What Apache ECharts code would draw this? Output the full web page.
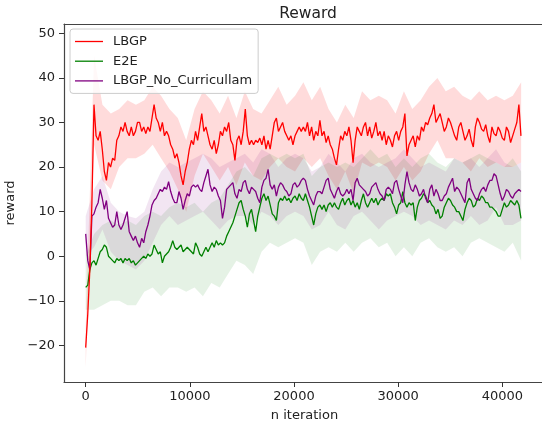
<!DOCTYPE html>
<html>
<head>
<meta charset="utf-8">
<title>Reward</title>
<script src="https://cdn.jsdelivr.net/npm/echarts@6/dist/echarts.min.js"></script>
<style>
  html, body { margin: 0; padding: 0; background: #fff; }
  #main { width: 542px; height: 426px; }
</style>
</head>
<body>
<div id="main"></div>
<script>
// iterations between samples of the mean curves / of the std bands
const meanStep = 199;
const bandStep = 804;

const seriesNames = ['LBGP', 'E2E', 'LBGP_No_Curricullam'];

const lbgpMean = [
  -20.5, -13, -3, 12, 34, 27, 26, 28, 24, 19,
  17, 21, 20, 22, 21.5, 26, 27, 29, 28, 30,
  28, 27, 29, 27, 28, 30, 30, 28, 29, 27.5,
  29, 28, 31, 34, 31, 30, 28, 30, 27, 28,
  27, 25, 24, 22, 23, 21, 18, 16, 19, 21,
  24, 26, 25, 28, 26, 29, 32, 28, 29, 27,
  25, 24, 26, 23, 25, 28, 27, 29, 28, 30,
  26, 25, 21.5, 26, 27, 25, 28, 33, 27, 25,
  26, 25, 26, 25.5, 26.5, 25, 27, 24, 26, 24,
  27, 30, 31, 28, 29, 30, 28, 27, 26, 27,
  25, 27, 28, 29, 28, 29, 28, 30, 27, 29,
  26, 28, 27, 30.5, 27, 28, 25.5, 27, 25, 24,
  22, 20.5, 24, 27, 26, 28, 27, 29, 26, 21,
  26, 29, 28, 27, 29, 30, 27, 29, 26.5, 28,
  30, 27, 28, 26, 28, 25, 27, 26, 24.5, 27,
  28, 26, 28, 29, 32, 22.5, 25, 26, 27, 24.5,
  27, 26, 29, 28, 30, 29.5, 31, 32, 34, 30,
  31, 32, 30, 28, 29, 31, 30, 28.5, 27, 26,
  29, 30, 28, 26, 27, 28.5, 26, 24.5, 29, 31,
  30, 28.5, 28, 29.5, 27, 25.5, 29, 27.5, 27, 29,
  28, 26.5, 26, 29, 28, 25.5, 27, 28.5, 30, 34, 27
];

const e2eMean = [
  -7, -6.5, -3, -1.5, -1, -2, -0.5, 1, 1.5, 2.5,
  2, 0, -0.5, -1, -1.5, -0.5, -1, -0.5, -1.5, -0.5,
  -1, -0.5, -1.5, -1, -2, -1.5, -1, -0.5, 0, -0.5,
  0.5, 0, 0.5, 2.5, 1.5, 0.5, 1, -1.5, 0, 0.5,
  1, 2, 3.5, 2, 1.5, 2, 2.5, 1, 1.5, 2,
  1.5, 1, 0.5, 3, 2, 0.5, 0, 1, 2, 1,
  2, 3, 2, 3.5, 2.5, 3, 2.5, 3, 4.5, 5.5,
  6.5, 7.5, 9, 10.5, 12, 12.5, 10.5, 9, 6.5, 9.5,
  10.5, 8, 5.5, 9, 11, 13, 14, 12.5, 13.5, 11.5,
  9.5, 9, 8, 12, 13, 12.5, 13.5, 12.5, 13, 12,
  13, 13.5, 12.5, 14, 13, 12.5, 14, 12.5, 11, 9,
  7, 9.5, 11, 11.5, 10.5, 11.5, 10, 11.5, 12, 11,
  12, 11, 10.5, 12, 13, 11.5, 12.5, 13, 11.5, 12.5,
  11, 12, 10.5, 12.5, 14, 12, 11, 12, 13, 12,
  13, 11.5, 12.5, 13, 12.5, 14, 13.5, 14, 12, 11,
  9.5, 11.5, 12, 14.5, 12, 11, 12, 11.5, 12, 8,
  11, 12.5, 13, 14, 13.5, 12, 12.5, 11.5, 11, 9.5,
  10.5, 8.5, 9, 11, 12, 13, 12.5, 11.5, 11, 10,
  10, 9, 8, 10.5, 12, 13, 12.5, 11, 11.5, 13,
  12.5, 13.5, 13, 12, 12, 11, 11, 10.5, 10, 9,
  9, 10.5, 12, 11, 11.5, 12.5, 12, 11.5, 12.5, 11.5, 8.5
];

const noCurMean = [
  5, -1, -3, 9, 9.5, 11, 12, 15, 13, 10.5,
  12.5, 8.5, 7.5, 6.5, 7, 10, 7, 6, 7, 8.5,
  10, 5.5, 4.5, 3.5, 4.5, 3, 2, 4, 3, 5.5,
  7, 9, 11.5, 12.5, 13, 14, 15, 14.5, 15.5, 15,
  16.7, 14.5, 13, 12, 12, 14.5, 13, 10.5, 12.5, 14,
  13.5, 15.5, 16, 15.5, 16, 15, 14.5, 16.5, 18, 19.5,
  16, 14.5, 15.5, 15, 13.5, 12.5, 8.5, 11, 15, 15.5,
  16, 16.5, 14, 13, 15, 14.5, 16.5, 17, 15, 14,
  15.5, 15, 14.5, 13, 12, 15.5, 17, 17.5, 19.5, 16,
  15, 16, 13.5, 15.5, 16.5, 16, 15, 14.5, 13.5, 14,
  16, 16.5, 15.5, 16, 17, 17.5, 17, 15, 13.5, 12.5,
  11.5, 13.5, 14.5, 14.5, 14, 15.5, 17, 17.5, 15, 14,
  13, 14.5, 15.5, 14, 13.5, 14, 15, 14, 15, 12.5,
  16.5, 17.5, 16, 15.5, 15, 14.5, 13.5, 14, 15.5, 16,
  16.5, 15, 14, 13.5, 12.5, 15, 15.5, 15, 14, 16.5,
  17, 15, 13.5, 12, 16, 19, 16.5, 15, 14.5, 16,
  15, 13.5, 14, 15, 13, 12, 15, 16, 13.5, 15,
  14, 12.5, 12.5, 13.5, 14, 15.5, 16.5, 17.5, 14.5, 15.5,
  15, 14, 13, 12, 16.5, 17.5, 15, 14, 13, 12.5,
  14, 15, 15.5, 14.5, 16, 17, 17, 18.5, 18, 16,
  14, 12.5, 13.5, 15, 14.5, 13.5, 13, 14, 14.5, 15, 14.5
];

const lbgpUpper = [
  -16, 45, 34, 32, 33, 35, 34, 35, 38, 36,
  33, 31, 26, 33, 37, 35, 32, 36, 31, 37,
  33, 32, 35, 38, 34, 36, 39, 35, 38, 33,
  30, 34, 31, 37, 35, 36, 35, 32, 37, 33,
  35, 38, 40, 37, 38, 36, 35, 37, 35, 36,
  35, 36, 39
];
const lbgpLower = [
  -25, 25, 17, 15, 20, 22, 22, 23, 25, 22,
  19, 15, 10, 18, 23, 20, 17, 20, 16, 21,
  18, 17, 20, 22, 20, 19, 22, 20, 22, 18,
  15, 19, 14, 21, 20, 21, 20, 17, 20, 17,
  19, 23, 26, 22, 22, 21, 19, 22, 20, 21,
  20, 20, 21
];

const e2eUpper = [
  0, 5, 7, 8, 7, 8, 7, 9, 10, 9,
  11, 12, 11, 12, 10, 12, 13, 16, 19, 20,
  18, 22, 23, 22, 23, 22, 23, 18, 20, 21,
  20, 21, 20, 22, 24, 22, 23, 20, 22, 20,
  22, 23, 21, 20, 22, 21, 22, 23, 22, 21,
  20, 22, 19
];
const e2eLower = [
  -12, -12, -11, -10, -10, -11, -11, -8, -7, -9,
  -7, -7, -8, -7, -9, -6, -7, -4, -1, -2,
  -4, 1, 3, 2, 3, 4, 3, -2, 1, 2,
  1, 3, 1, 3, 4, 2, 3, 0, 2, 0,
  3, 4, 2, 1, 2, 0, 3, 4, 3, 2,
  1, 3, -1
];

const noCurUpper = [
  9, 15, 18, 12, 10, 9, 8.5, 10, 15, 19,
  21, 20, 21, 22, 23, 22, 20, 21, 22, 23,
  21, 24, 23, 20, 22, 23, 22, 19, 20, 23,
  21, 19, 22, 23, 21, 20, 21, 22, 24, 22,
  20, 21, 20, 19, 22, 21, 22, 20, 22, 24,
  21, 20, 21
];
const noCurLower = [
  0, 2, 6, 1, -1, -2, -3, -1, 3, 7,
  9, 7, 8, 9, 10, 8, 6, 8, 9, 9,
  7, 10, 9, 7, 9, 10, 9, 6, 7, 10,
  7, 6, 9, 10, 8, 6, 8, 9, 10, 9,
  7, 8, 7, 6, 8, 7, 9, 7, 8, 11,
  7, 7, 8
];

const xTicks = [0, 10000, 20000, 30000, 40000];
const yTicks = [-20, -10, 0, 10, 20, 30, 40, 50];

const colors = ['#ff0000', '#008000', '#800080'];
const bandColors = ['rgba(255,0,0,0.14)', 'rgba(0,128,0,0.10)', 'rgba(128,0,128,0.10)'];
const font = 'DejaVu Sans';
const spine = { color: '#444', width: 1.2 };
const xMin = -2083;
const xMax = 44098;

function toPoints(values, step) {
  return values.map((v, i) => [i * step, v]);
}

// filled std band: polygon along the upper edge and back along the lower edge
function bandSeries(upper, lower, color) {
  return {
    type: 'custom',
    silent: true,
    z: 1,
    data: [[0, 0]],
    renderItem(params, api) {
      const pts = [];
      upper.forEach((v, i) => pts.push(api.coord([i * bandStep, v])));
      for (let i = lower.length - 1; i >= 0; i--) {
        pts.push(api.coord([i * bandStep, lower[i]]));
      }
      return { type: 'polygon', shape: { points: pts }, style: { fill: color } };
    }
  };
}

function lineSeries(name, values, color) {
  return {
    name: name,
    type: 'line',
    z: 3,
    symbol: 'none',
    data: toPoints(values, meanStep),
    lineStyle: { color: color, width: 1.3 },
    itemStyle: { color: color }
  };
}

const chart = echarts.init(document.getElementById('main'));
chart.setOption({
  animation: false,
  backgroundColor: '#fff',
  title: {
    text: 'Reward',
    left: 303,
    top: 1,
    textAlign: 'center',
    textStyle: { fontFamily: font, fontSize: 15.5, fontWeight: 'normal', color: '#222' }
  },
  legend: {
    data: seriesNames,
    orient: 'vertical',
    left: 70,
    top: 29,
    padding: [6, 6, 6, 5],
    icon: 'rect',
    itemWidth: 28,
    itemHeight: 1.3,
    itemGap: 6.7,
    backgroundColor: 'rgba(255,255,255,0.8)',
    borderColor: '#cccccc',
    borderWidth: 1,
    borderRadius: 3,
    textStyle: { fontFamily: font, fontSize: 13, color: '#222', lineHeight: 13, padding: [0, 0, 0, 5] }
  },
  grid: {
    left: 64,
    top: 24,
    right: -3,
    bottom: 44,
    outerBoundsMode: 'none'
  },
  xAxis: [
    {
      type: 'value',
      min: xMin,
      max: xMax,
      name: 'n iteration',
      nameLocation: 'middle',
      nameGap: 27,
      nameTextStyle: { fontFamily: font, fontSize: 13, color: '#222' },
      axisLine: { show: true, onZero: false, lineStyle: spine },
      splitLine: { show: false },
      axisTick: { show: true, customValues: xTicks, length: 5, lineStyle: { color: '#333' } },
      axisLabel: {
        customValues: xTicks,
        margin: 8,
        fontFamily: font,
        fontSize: 13,
        color: '#222',
        formatter: v => String(v)
      }
    },
    {
      // top spine only
      type: 'value',
      position: 'top',
      min: xMin,
      max: xMax,
      axisLine: { show: true, onZero: false, lineStyle: spine },
      axisTick: { show: false },
      axisLabel: { show: false },
      splitLine: { show: false }
    }
  ],
  yAxis: {
    type: 'value',
    min: -28.22,
    max: 52.09,
    name: 'reward',
    nameLocation: 'middle',
    nameGap: 44,
    nameTextStyle: { fontFamily: font, fontSize: 13, color: '#222' },
    axisLine: { show: true, onZero: false, lineStyle: spine },
    splitLine: { show: false },
    axisTick: { show: true, customValues: yTicks, length: 5, lineStyle: { color: '#333' } },
    axisLabel: {
      customValues: yTicks,
      margin: 9,
      fontFamily: font,
      fontSize: 13,
      color: '#222',
      formatter: v => String(v).replace('-', '\u2212')
    }
  },
  series: [
    bandSeries(lbgpUpper, lbgpLower, bandColors[0]),
    bandSeries(e2eUpper, e2eLower, bandColors[1]),
    bandSeries(noCurUpper, noCurLower, bandColors[2]),
    lineSeries(seriesNames[1], e2eMean, colors[1]),
    lineSeries(seriesNames[2], noCurMean, colors[2]),
    lineSeries(seriesNames[0], lbgpMean, colors[0])
  ]
});
</script>
</body>
</html>
